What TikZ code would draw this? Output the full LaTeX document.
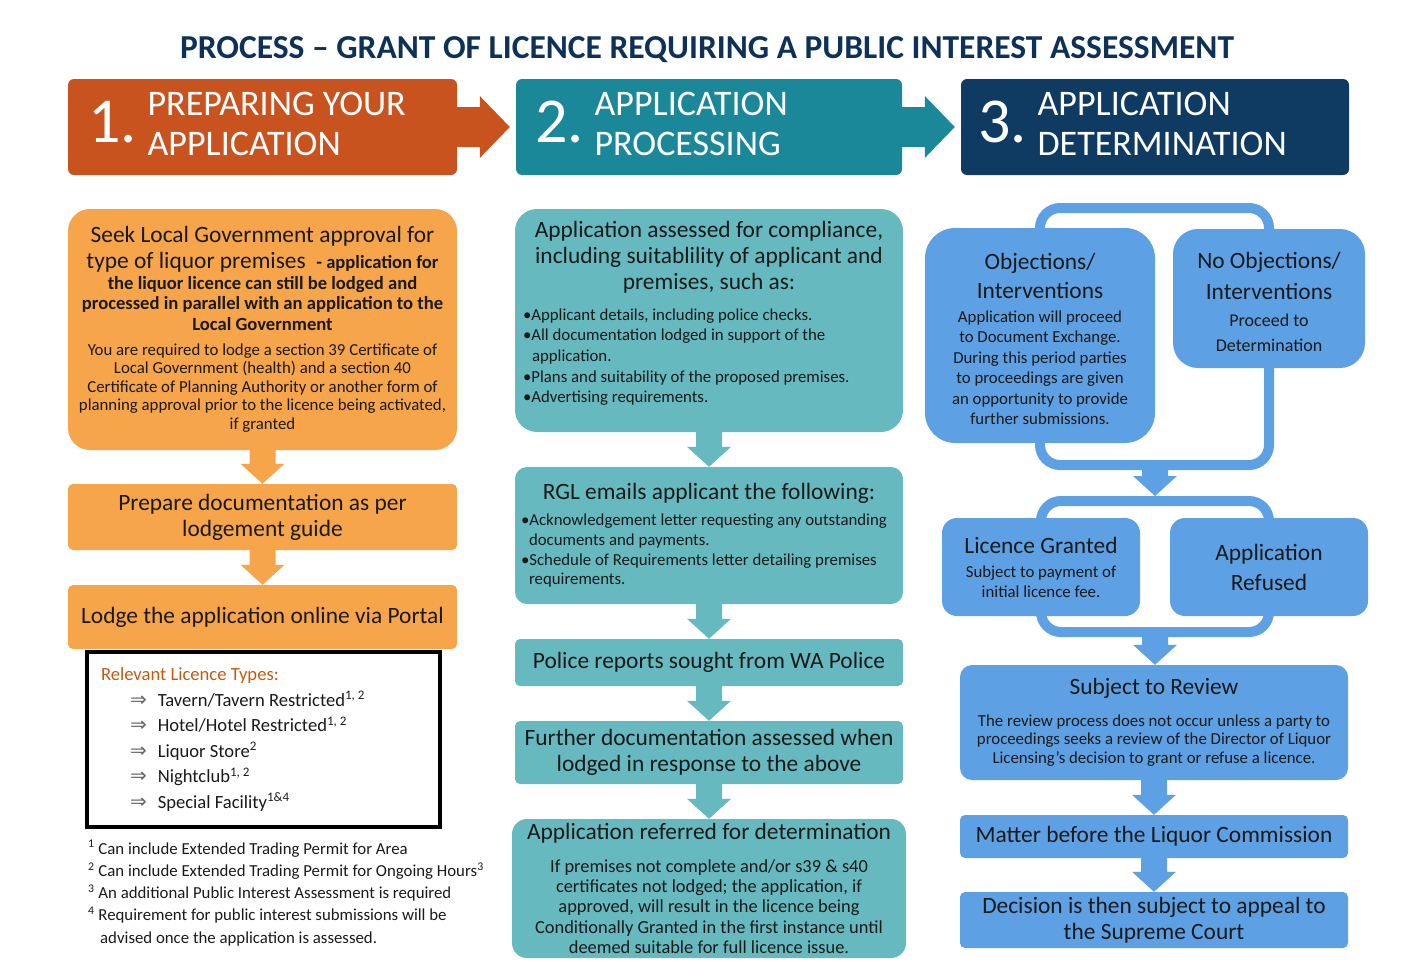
\documentclass[tikz,border=0pt]{standalone}
\usepackage{fontspec}
\setmainfont{Carlito}
\newfontfamily\symf{DejaVu Sans}
\usetikzlibrary{calc,backgrounds}
\definecolor{orD}{HTML}{C8531F}
\definecolor{orL}{HTML}{F6A54B}
\definecolor{teD}{HTML}{1A8899}
\definecolor{teL}{HTML}{66B9BF}
\definecolor{naD}{HTML}{0F3B63}
\definecolor{blL}{HTML}{5DA0E3}
\definecolor{ttl}{HTML}{0E3257}
\definecolor{ltc}{HTML}{C55A11}
\definecolor{txt}{HTML}{1A1A1A}
\newcommand\fsz[2]{\fontsize{#1}{#2}\selectfont}
\newcommand\nsp{\spaceskip=0pt\xspaceskip=0pt\relax}
\newcommand\ltarr{\hspace*{29pt}{\color{black!60}\symf\fsz{20}{25.5}⇒}\hspace{11pt}}
\newcommand\dnarrow[3]{\fill[#3] let \p1=(#1), \p2=(#2) in (\x1-13pt,\y1+2pt) -- (\x1+13pt,\y1+2pt) -- (\x1+13pt,\y2+20pt) -- (\x1+22pt,\y2+20pt) -- (\x1,\y2) -- (\x1-22pt,\y2+20pt) -- (\x1-13pt,\y2+20pt) -- cycle;}
\newcommand\rtarrow[3]{\fill[#3] let \p1=(#1), \p2=(#2) in (\x1-2pt,\y1+20pt) -- (\x2-36pt,\y1+20pt) -- (\x2-36pt,\y1+31pt) -- (\x2-6pt,\y1) -- (\x2-36pt,\y1-31pt) -- (\x2-36pt,\y1-20pt) -- (\x1-2pt,\y1-20pt) -- cycle;}
\newcommand\hdrtext[2]{\nsp{\fsz{64}{64}#1}\hspace{11pt}\raisebox{9pt}{\fsz{36}{40}\nsp\begin{tabular}[c]{@{}l@{}}#2\end{tabular}}}
\tikzset{
  box/.style={inner sep=0pt, text=txt},
  ob/.style={box, fill=orL},
  tb/.style={box, fill=teL},
  bb/.style={box, fill=blL},
  hdr/.style={inner sep=0pt, minimum height=96pt, rounded corners=6pt, text=white},
  big/.style={font=\fsz{23.4}{26}},
  loopline/.style={draw=blL, line width=10pt, rounded corners=20pt},
}
\begin{document}
\begin{tikzpicture}[x=1pt, y=-1pt]
\useasboundingbox (0,0) rectangle (1416,972);

% title
\node[font={\bfseries\fsz{33.5}{36}}, text=ttl, inner sep=0pt] (title) at (707,50) {PROCESS – GRANT OF LICENCE REQUIRING A PUBLIC INTEREST ASSESSMENT};

% headers
\node[hdr, fill=orD, minimum width=389pt, inner xsep=20pt, text width=349pt] (h1) at (262.5,127)
  {\raggedright\hdrtext{1.}{PREPARING YOUR\\APPLICATION}};
\node[hdr, fill=teD, minimum width=386pt, inner xsep=19pt, text width=348pt] (h2) at (709,127)
  {\raggedright\hdrtext{2.}{APPLICATION\\PROCESSING}};
\node[hdr, fill=naD, minimum width=388pt, inner xsep=17pt, text width=354pt] (h3) at (1155,127)
  {\raggedright\hdrtext{3.}{APPLICATION\\DETERMINATION}};
\rtarrow{h1.east}{h2.west}{orD}
\rtarrow{h2.east}{h3.west}{teD}

% column 1
\node[ob, rounded corners=22pt, minimum width=389pt, minimum height=241pt, text width=382pt] (A) at (262.5,329.5) {\nsp\centering
{\fsz{23.4}{26}Seek Local Government approval for\\type of liquor premises\ \ {\bfseries\fsz{18.6}{20.5}- application for}\par}
{\bfseries\fsz{18.6}{20.5}the liquor licence can still be lodged and\\processed in parallel with an application to the\\Local Government\par}
\vspace{6pt}
{\fsz{16.8}{18.6}You are required to lodge a section 39 Certificate of\\Local Government (health) and a section 40\\Certificate of Planning Authority or another form of\\planning approval prior to the licence being activated,\\if granted\par}};
\node[ob, big, rounded corners=5pt, minimum width=389pt, minimum height=66pt, text width=380pt] (B) at (262.5,517) {\nsp\centering Prepare documentation as per\\lodgement guide\par};
\node[ob, big, rounded corners=5pt, minimum width=389pt, minimum height=64pt] (C) at (262.5,617) {Lodge the application online via Portal};
\dnarrow{A.south}{B.north}{orL}
\dnarrow{B.south}{C.north}{orL}

\node[draw=black, line width=3.5pt, minimum width=353pt, minimum height=175pt, inner xsep=14pt, inner ysep=0pt, text width=325pt, text=txt, font=\fsz{18.6}{25.5}] (LT) at (263.5,739.5) {\nsp\raggedright
{\color{ltc}Relevant Licence Types:}\\
\ltarr Tavern/Tavern Restricted\textsuperscript{1, 2}\\
\ltarr Hotel/Hotel Restricted\textsuperscript{1, 2}\\
\ltarr Liquor Store\textsuperscript{2}\\
\ltarr Nightclub\textsuperscript{1, 2}\\
\ltarr Special Facility\textsuperscript{1\&4}\par};

\node[anchor=north west, inner sep=0pt, text width=420pt, text=txt, font=\fsz{16.8}{22.3}] (FN) at (88,840) {\nsp\raggedright
\textsuperscript{1} Can include Extended Trading Permit for Area\\
\textsuperscript{2} Can include Extended Trading Permit for Ongoing Hours\textsuperscript{3}\\
\textsuperscript{3} An additional Public Interest Assessment is required\\
\textsuperscript{4} Requirement for public interest submissions will be\\
\hspace*{12pt}advised once the application is assessed.\par};

% column 2
\node[tb, rounded corners=22pt, minimum width=388pt, minimum height=223pt, text width=372pt] (D) at (709,320.5) {\nsp
{\centering\fsz{23.4}{26}Application assessed for compliance,\\including suitablility of applicant and\\premises, such as:\par}
\vspace{10pt}
{\raggedright\fsz{16.8}{20.7}%
\hangindent=9pt\hangafter=1 •Applicant details, including police checks.\par
\hangindent=9pt\hangafter=1 •All documentation lodged in support of the\newline application.\par
\hangindent=9pt\hangafter=1 •Plans and suitability of the proposed premises.\par
\hangindent=9pt\hangafter=1 •Advertising requirements.\par}
\kern14pt};
\node[tb, rounded corners=12pt, minimum width=388pt, minimum height=137pt, text width=376pt] (E) at (709,535.5) {\nsp
{\centering\fsz{23.4}{26}RGL emails applicant the following:\par}
\vspace{6pt}
{\raggedright\fsz{16.8}{19.8}%
\hangindent=8pt\hangafter=1 •Acknowledgement letter requesting any outstanding\newline documents and payments.\par
\hangindent=8pt\hangafter=1 •Schedule of Requirements letter detailing premises\newline requirements.\par}};
\node[tb, big, rounded corners=5pt, minimum width=388pt, minimum height=47pt] (F) at (709,662.5) {Police reports sought from WA Police};
\node[tb, big, rounded corners=5pt, minimum width=388pt, minimum height=63pt, text width=380pt] (G) at (709,752.5) {\nsp\centering Further documentation assessed when\\lodged in response to the above\par};
\node[tb, rounded corners=15pt, minimum width=394pt, minimum height=139pt, text width=382pt] (H) at (709,888.5) {\nsp\centering
{\fsz{23.4}{26}Application referred for determination\par}
\vspace{12pt}
{\fsz{18.4}{20.3}If premises not complete and/or s39 \& s40\\certificates not lodged; the application, if\\approved, will result in the licence being\\Conditionally Granted in the first instance until\\deemed suitable for full licence issue.\par}};
\dnarrow{D.south}{E.north}{teL}
\dnarrow{E.south}{F.north}{teL}
\dnarrow{F.south}{G.north}{teL}
\dnarrow{G.south}{H.north}{teL}

% column 3
\node[bb, rounded corners=30pt, minimum width=230pt, minimum height=215pt, text width=224pt] (O) at (1040,335.5) {\nsp\centering
{\fsz{23.4}{29}Objections/\\Interventions\par}
\vspace{3pt}
{\fsz{16.8}{20.5}Application will proceed\\to Document Exchange.\\During this period parties\\to proceedings are given\\an opportunity to provide\\further submissions.\par}
\kern-7pt};
\node[bb, rounded corners=25pt, minimum width=192pt, minimum height=139pt, text width=186pt] (N) at (1269,298.5) {\nsp\centering
{\fsz{23.4}{31}No Objections/\\Interventions\par}
\vspace{2pt}
{\fsz{18}{25}Proceed to\\Determination\par}
\kern-6pt};
\node[bb, rounded corners=15pt, minimum width=198pt, minimum height=98pt, text width=192pt] (LG) at (1041,567) {\nsp\centering
{\fsz{23.4}{26}Licence Granted\par}
\vspace{4pt}
{\fsz{16.8}{20}Subject to payment of\\initial licence fee.\par}};
\node[bb, rounded corners=15pt, minimum width=198pt, minimum height=98pt, text width=192pt, font=\fsz{23.4}{30}] (AR) at (1269,567) {\nsp\centering Application\\Refused\par};
\node[bb, rounded corners=12pt, minimum width=388pt, minimum height=115pt, text width=378pt] (R) at (1154,722.5) {\nsp\centering
{\fsz{23.4}{26}Subject to Review\par}
\vspace{13pt}
{\fsz{16.8}{18.6}The review process does not occur unless a party to\\proceedings seeks a review of the Director of Liquor\\Licensing's decision to grant or refuse a licence.\par}};
\node[bb, big, rounded corners=5pt, minimum width=388pt, minimum height=43pt] (M) at (1154,836.5) {Matter before the Liquor Commission};
\node[bb, big, rounded corners=5pt, minimum width=388pt, minimum height=56pt, text width=380pt] (Dc) at (1154,920) {\nsp\centering Decision is then subject to appeal to\\the Supreme Court\par};

\coordinate (t1) at (1155,208);
\coordinate (m1) at (1155,465);
\coordinate (m2) at (1155,501);
\coordinate (m3) at (1155,632);
\begin{pgfonlayer}{background}
\draw[loopline] (O.center) |- (t1) -| (N.center);
\draw[loopline] (O.center) |- (m1) -| (N.center);
\draw[loopline] (LG.center) |- (m2) -| (AR.center);
\draw[loopline] (LG.center) |- (m3) -| (AR.center);
\end{pgfonlayer}
\dnarrow{m1}{$(m2)+(0,-5)$}{blL}
\dnarrow{m3}{R.north}{blL}
\dnarrow{R.south}{M.north}{blL}
\dnarrow{M.south}{Dc.north}{blL}
\end{tikzpicture}
\end{document}
